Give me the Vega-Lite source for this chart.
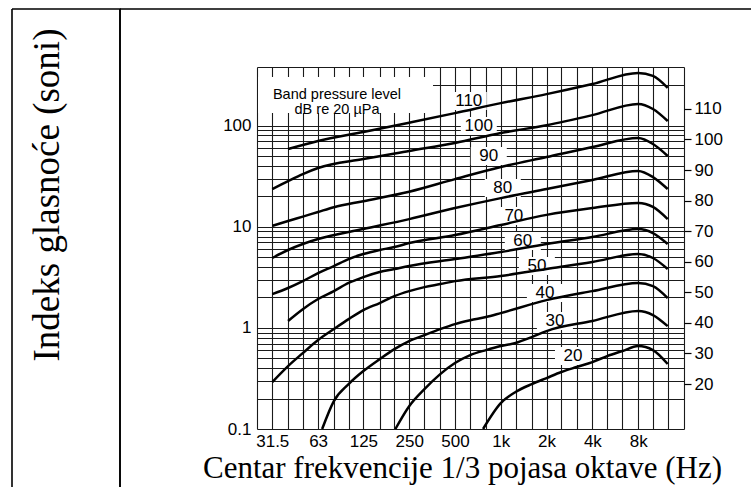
{
  "$schema": "https://vega.github.io/schema/vega-lite/v6.json",
  "background": "white",
  "padding": {"left": 11, "top": 8, "right": 0, "bottom": 0},
  "spacing": 0,
  "bounds": "flush",
  "config": {
    "view": {"stroke": null},
    "axis": {"labelColor": "black", "labelFont": "Liberation Sans", "labelFontSize": 17, "titleColor": "black"}
  },
  "datasets": {
    "curves": [
      {"level":110,"f":40,"S":58.7},{"level":110,"f":63,"S":70.5},{"level":110,"f":125,"S":86.5},{"level":110,"f":250,"S":107},{"level":110,"f":500,"S":133},{"level":110,"f":1000,"S":167},{"level":110,"f":2000,"S":205},{"level":110,"f":4000,"S":258},{"level":110,"f":8000,"S":332},{"level":110,"f":10000,"S":310},{"level":110,"f":12500,"S":236},
      {"level":100,"f":31.5,"S":23.6},{"level":100,"f":40,"S":28.3},{"level":100,"f":50,"S":33.2},{"level":100,"f":63,"S":38.1},{"level":100,"f":125,"S":46.7},{"level":100,"f":250,"S":56.1},{"level":100,"f":500,"S":67.3},{"level":100,"f":1000,"S":84.5},{"level":100,"f":2000,"S":101},{"level":100,"f":4000,"S":127},{"level":100,"f":8000,"S":164},{"level":100,"f":10000,"S":146},{"level":100,"f":12500,"S":111},
      {"level":90,"f":31.5,"S":10.2},{"level":90,"f":40,"S":11.4},{"level":90,"f":50,"S":12.6},{"level":90,"f":63,"S":14.0},{"level":90,"f":80,"S":15.6},{"level":90,"f":125,"S":17.9},{"level":90,"f":250,"S":22.2},{"level":90,"f":500,"S":29.6},{"level":90,"f":1000,"S":39.0},{"level":90,"f":2000,"S":48.9},{"level":90,"f":4000,"S":61.4},{"level":90,"f":8000,"S":75.4},{"level":90,"f":10000,"S":65.8},{"level":90,"f":12500,"S":50.1},
      {"level":80,"f":31.5,"S":4.91},{"level":80,"f":40,"S":5.89},{"level":80,"f":50,"S":6.75},{"level":80,"f":63,"S":7.56},{"level":80,"f":125,"S":9.49},{"level":80,"f":250,"S":11.9},{"level":80,"f":500,"S":15.3},{"level":80,"f":1000,"S":19.2},{"level":80,"f":2000,"S":23.6},{"level":80,"f":4000,"S":29.0},{"level":80,"f":8000,"S":35.6},{"level":80,"f":10000,"S":31.0},{"level":80,"f":12500,"S":23.6},
      {"level":70,"f":31.5,"S":2.16},{"level":70,"f":40,"S":2.48},{"level":70,"f":50,"S":2.90},{"level":70,"f":63,"S":3.48},{"level":70,"f":80,"S":4.09},{"level":70,"f":100,"S":4.79},{"level":70,"f":125,"S":5.37},{"level":70,"f":160,"S":5.89},{"level":70,"f":200,"S":6.30},{"level":70,"f":250,"S":6.90},{"level":70,"f":500,"S":8.28},{"level":70,"f":1000,"S":10.4},{"level":70,"f":2000,"S":13.1},{"level":70,"f":4000,"S":15.3},{"level":70,"f":8000,"S":17.2},{"level":70,"f":10000,"S":15.7},{"level":70,"f":12500,"S":11.9},
      {"level":60,"f":40,"S":1.17},{"level":60,"f":50,"S":1.53},{"level":60,"f":63,"S":1.93},{"level":60,"f":80,"S":2.31},{"level":60,"f":100,"S":2.78},{"level":60,"f":125,"S":3.18},{"level":60,"f":160,"S":3.57},{"level":60,"f":200,"S":3.82},{"level":60,"f":250,"S":4.09},{"level":60,"f":500,"S":4.79},{"level":60,"f":1000,"S":5.62},{"level":60,"f":2000,"S":6.75},{"level":60,"f":4000,"S":7.91},{"level":60,"f":8000,"S":9.49},{"level":60,"f":10000,"S":8.67},{"level":60,"f":12500,"S":6.75},
      {"level":50,"f":31.5,"S":0.291},{"level":50,"f":40,"S":0.419},{"level":50,"f":50,"S":0.563},{"level":50,"f":63,"S":0.758},{"level":50,"f":80,"S":0.973},{"level":50,"f":100,"S":1.22},{"level":50,"f":125,"S":1.50},{"level":50,"f":160,"S":1.76},{"level":50,"f":200,"S":2.06},{"level":50,"f":250,"S":2.31},{"level":50,"f":315,"S":2.53},{"level":50,"f":400,"S":2.71},{"level":50,"f":500,"S":2.90},{"level":50,"f":1000,"S":3.26},{"level":50,"f":2000,"S":3.82},{"level":50,"f":4000,"S":4.48},{"level":50,"f":8000,"S":5.37},{"level":50,"f":10000,"S":4.91},{"level":50,"f":12500,"S":3.82},
      {"level":40,"f":67,"S":0.1},{"level":40,"f":80,"S":0.189},{"level":40,"f":100,"S":0.278},{"level":40,"f":125,"S":0.374},{"level":40,"f":160,"S":0.491},{"level":40,"f":200,"S":0.617},{"level":40,"f":250,"S":0.741},{"level":40,"f":315,"S":0.849},{"level":40,"f":400,"S":0.973},{"level":40,"f":500,"S":1.09},{"level":40,"f":630,"S":1.19},{"level":40,"f":800,"S":1.28},{"level":40,"f":1000,"S":1.40},{"level":40,"f":2000,"S":1.88},{"level":40,"f":4000,"S":2.31},{"level":40,"f":8000,"S":2.78},{"level":40,"f":10000,"S":2.59},{"level":40,"f":12500,"S":1.97},
      {"level":30,"f":203,"S":0.1},{"level":30,"f":250,"S":0.168},{"level":30,"f":315,"S":0.248},{"level":30,"f":400,"S":0.349},{"level":30,"f":500,"S":0.449},{"level":30,"f":630,"S":0.538},{"level":30,"f":800,"S":0.603},{"level":30,"f":1000,"S":0.661},{"level":30,"f":1250,"S":0.708},{"level":30,"f":1600,"S":0.811},{"level":30,"f":2000,"S":0.930},{"level":30,"f":4000,"S":1.17},{"level":30,"f":8000,"S":1.47},{"level":30,"f":10000,"S":1.34},{"level":30,"f":12500,"S":1.04},
      {"level":20,"f":765,"S":0.1},{"level":20,"f":1000,"S":0.180},{"level":20,"f":1250,"S":0.232},{"level":20,"f":1600,"S":0.278},{"level":20,"f":2000,"S":0.319},{"level":20,"f":2500,"S":0.366},{"level":20,"f":3150,"S":0.410},{"level":20,"f":4000,"S":0.459},{"level":20,"f":5000,"S":0.526},{"level":20,"f":6300,"S":0.590},{"level":20,"f":8000,"S":0.661},{"level":20,"f":10000,"S":0.603},{"level":20,"f":12500,"S":0.439}
    ],
    "labels": [
      {"level":110,"f":616,"S":175},{"level":100,"f":717,"S":99.1},{"level":90,"f":834,"S":50.1},{"level":80,"f":1031,"S":24.2},{"level":70,"f":1219,"S":12.8},
      {"level":60,"f":1396,"S":7.22},{"level":50,"f":1727,"S":4.09},{"level":40,"f":1950,"S":2.21},{"level":30,"f":2269,"S":1.17},{"level":20,"f":2982,"S":0.526}
    ],
    "note": [
      {"text":"Band pressure level\ndB re 20 µPa","f":83.9,"S":198.6}
    ]
  },
  "hconcat": [
    {
      "width": 108,
      "height": 478,
      "view": {"stroke": "black", "strokeWidth": 1.6, "strokeDash": [586, 108, 478, 0]},
      "data": {"values": [{"t": "Indeks glasnoće (soni)"}]},
      "mark": {"type": "text", "angle": 270, "font": "Liberation Serif", "fontSize": 37, "align": "center", "baseline": "middle", "dx": 53, "dy": -18, "color": "black"},
      "encoding": {"text": {"field": "t", "type": "nominal"}}
    },
    {
      "width": 631,
      "height": 478,
      "view": {"stroke": "black", "strokeWidth": 1.6, "strokeDash": [631, 1109, 478, 0]},
      "resolve": {"scale": {"y": "independent"}},
      "layer": [
        {
          "encoding": {
            "x": {
              "field": "f", "type": "quantitative",
              "scale": {"type": "log", "domain": [25, 16000], "range": [137, 564], "nice": false},
              "axis": {
                "orient": "bottom", "offset": -58,
                "values": [25,31.5,40,50,63,80,100,125,160,200,250,315,400,500,630,800,1000,1250,1600,2000,2500,3150,4000,5000,6300,8000,10000,12500,16000],
                "labelExpr": "indexof([31.5,63,125,250,500,1000,2000,4000,8000], datum.value) >= 0 ? (datum.value >= 1000 ? (datum.value / 1000) + 'k' : '' + datum.value) : ''",
                "labelOverlap": false, "labelFlush": false, "labelPadding": 4,
                "grid": true, "gridColor": "#1a1a1a", "gridWidth": 1.1, "gridOpacity": 1,
                "domain": false, "ticks": false,
                "title": "Centar frekvencije 1/3 pojasa oktave (Hz)",
                "titleFont": "Liberation Serif", "titleFontSize": 31, "titleFontWeight": "normal",
                "titleX": 342, "titleY": 48, "titleAlign": "center", "titleBaseline": "alphabetic"
              }
            },
            "y": {
              "field": "S", "type": "quantitative",
              "scale": {"type": "log", "domain": [0.1, 380], "range": [420, 58], "nice": false},
              "axis": {
                "orient": "left", "offset": -137,
                "values": [0.1,0.2,0.3,0.4,0.5,0.6,0.7,0.8,0.9,1,2,3,4,5,6,7,8,9,10,20,30,40,50,60,70,80,90,100,250,380],
                "labelExpr": "indexof([0.1,1,10,100], datum.value) >= 0 ? '' + datum.value : ''",
                "labelOverlap": false, "labelFlush": false, "labelPadding": 6,
                "grid": true, "gridColor": "#1a1a1a", "gridWidth": 1.1, "gridOpacity": 1,
                "domain": false, "ticks": false, "title": null
              }
            }
          },
          "layer": [
            {"data": {"name": "note"}, "mark": {"type": "point", "shape": "M-0.79,-0.185L0.96,-0.185L0.96,0.175L-0.79,0.175Z", "size": 40000, "filled": true, "fill": "white", "opacity": 1, "strokeWidth": 0}},
            {"data": {"name": "labels"}, "mark": {"type": "point", "shape": "M-1,-0.5L1,-0.5L1,0.5L-1,0.5Z", "size": 1296, "filled": true, "fill": "white", "opacity": 1, "strokeWidth": 0}},
            {"data": {"name": "curves"}, "mark": {"type": "line", "interpolate": "monotone", "color": "black", "strokeWidth": 2.5}, "encoding": {"detail": {"field": "level", "type": "nominal"}}},
            {"data": {"name": "labels"}, "mark": {"type": "text", "font": "Liberation Sans", "fontSize": 17, "color": "black", "align": "center", "baseline": "middle"}, "encoding": {"text": {"field": "level", "type": "quantitative"}}},
            {"data": {"name": "note"}, "mark": {"type": "text", "font": "Liberation Sans", "fontSize": 14.5, "lineBreak": "\n", "lineHeight": 15, "color": "black", "align": "center", "baseline": "middle"}, "encoding": {"text": {"field": "text", "type": "nominal"}}}
          ]
        },
        {
          "data": {"name": "labels"},
          "mark": {"type": "point", "opacity": 0},
          "encoding": {
            "y": {
              "field": "level", "type": "quantitative",
              "scale": {"type": "linear", "domain": [5.3, 123.7], "range": [420, 58], "nice": false, "zero": false},
              "axis": {
                "orient": "right", "offset": -67,
                "values": [20,30,40,50,60,70,80,90,100,110],
                "grid": false, "domain": false, "ticks": true, "tickSize": 7, "tickColor": "black", "tickWidth": 1.2,
                "labelPadding": 3, "labelFontSize": 17, "title": null
              }
            }
          }
        }
      ]
    }
  ]
}
